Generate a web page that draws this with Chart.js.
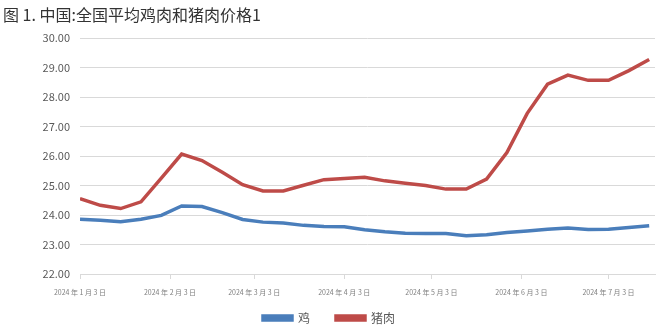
<!DOCTYPE html>
<html>
<head>
<meta charset="utf-8">
<script src="https://cdn.jsdelivr.net/npm/chart.js@4"></script>
<style>
  html, body { margin: 0; padding: 0; background: #fff; }
  #wrap { width: 660px; height: 328px; position: relative; }
</style>
</head>
<body>
<div id="wrap"><canvas id="priceChart"></canvas></div>
<script>
// weekly dates (categories)
const fechas = ['2024-01-03','2024-01-10','2024-01-17','2024-01-24','2024-01-31','2024-02-07','2024-02-14',
  '2024-02-21','2024-02-28','2024-03-06','2024-03-13','2024-03-20','2024-03-27','2024-04-03','2024-04-10',
  '2024-04-17','2024-04-24','2024-05-01','2024-05-08','2024-05-15','2024-05-22','2024-05-29','2024-06-05',
  '2024-06-12','2024-06-19','2024-06-26','2024-07-03','2024-07-10','2024-07-17'];

const pollo = [23.86, 23.82, 23.77, 23.86, 23.99, 24.31, 24.29, 24.08, 23.85, 23.76, 23.73, 23.65, 23.61, 23.60,
  23.50, 23.43, 23.38, 23.37, 23.37, 23.30, 23.33, 23.41, 23.46, 23.52, 23.56, 23.51, 23.52, 23.58, 23.64];

const cerdo = [24.56, 24.33, 24.22, 24.45, 25.25, 26.07, 25.85, 25.45, 25.03, 24.82, 24.82, 25.01, 25.20, 25.24,
  25.28, 25.16, 25.08, 25.00, 24.88, 24.88, 25.22, 26.12, 27.45, 28.44, 28.75, 28.57, 28.57, 28.90, 29.28];

const tickFechas = ['2024-01-03','2024-02-03','2024-03-03','2024-04-03','2024-05-03','2024-06-03','2024-07-03'];
const tickLabels = ['2024 年 1 月 3 日','2024 年 2 月 3 日','2024 年 3 月 3 日','2024 年 4 月 3 日',
  '2024 年 5 月 3 日','2024 年 6 月 3 日','2024 年 7 月 3 日'];

const yTicks = [22, 23, 24, 25, 26, 27, 28, 29, 30];

const inicio = Date.parse(fechas[0]);
const dia = d => (Date.parse(d) - inicio) / 86400000;
const tickDias = tickFechas.map(dia);

const fuente = '"Noto Sans CJK SC", "Noto Sans", sans-serif';
const azul = '#4a7ebb';
const rojo = '#be4b48';

// la leyenda necesita padding grande (espacio entre items) pero poca altura
const ajusteLeyenda = {
  id: 'ajusteLeyenda',
  beforeLayout(chart) {
    const leyenda = chart.legend;
    if (leyenda && !leyenda._fitAjustado) {
      const fitOriginal = leyenda.fit;
      leyenda.fit = function () {
        fitOriginal.call(this);
        this.height = 30;
      };
      leyenda._fitAjustado = true;
    }
  },
  afterLayout(chart) {
    const leyenda = chart.legend;
    if (leyenda) {
      leyenda.top = leyenda.bottom - 42;
    }
  }
};

new Chart(document.getElementById('priceChart'), {
  type: 'line',
  data: {
    datasets: [
      {
        label: '鸡',
        data: fechas.map((f, i) => ({ x: dia(f), y: pollo[i] })),
        borderColor: azul,
        backgroundColor: azul,
        borderWidth: 3.5,
        pointRadius: 0,
        tension: 0
      },
      {
        label: '猪肉',
        data: fechas.map((f, i) => ({ x: dia(f), y: cerdo[i] })),
        borderColor: rojo,
        backgroundColor: rojo,
        borderWidth: 3.5,
        pointRadius: 0,
        tension: 0
      }
    ]
  },
  plugins: [ajusteLeyenda],
  options: {
    responsive: true,
    maintainAspectRatio: false,
    animation: false,
    layout: { padding: { left: 3, right: 5, top: 0, bottom: 0 } },
    plugins: {
      title: {
        display: true,
        text: '图 1. 中国:全国平均鸡肉和猪肉价格1',
        align: 'start',
        color: '#333333',
        font: { family: fuente, size: 16, weight: 'normal' },
        padding: { top: 5, bottom: 14 }
      },
      legend: {
        position: 'bottom',
        labels: {
          boxWidth: 29,
          boxHeight: 4,
          padding: 26,
          color: '#595959',
          font: { family: fuente, size: 12 }
        }
      },
      tooltip: { enabled: false }
    },
    scales: {
      x: {
        type: 'linear',
        min: 0,
        max: 198,
        afterBuildTicks: scale => { scale.ticks = tickDias.map(v => ({ value: v })); },
        afterFit: scale => { scale.height = 24; },
        ticks: {
          autoSkip: false,
          maxRotation: 0,
          padding: 9,
          color: '#7f7f7f',
          font: { family: fuente, size: 7 },
          callback: v => tickLabels[tickDias.indexOf(v)]
        },
        grid: { drawOnChartArea: false, drawTicks: true, tickLength: 5, color: '#d9d9d9' },
        border: { display: true, color: '#d9d9d9' }
      },
      y: {
        min: 22,
        max: 30,
        afterBuildTicks: scale => { scale.ticks = yTicks.map(v => ({ value: v })); },
        afterFit: scale => { scale.width = 77; },
        ticks: {
          padding: 10,
          color: '#595959',
          font: { family: fuente, size: 11 },
          callback: v => v.toFixed(2)
        },
        grid: { color: '#d9d9d9', drawTicks: false },
        border: { display: false }
      }
    }
  }
});
</script>
</body>
</html>
